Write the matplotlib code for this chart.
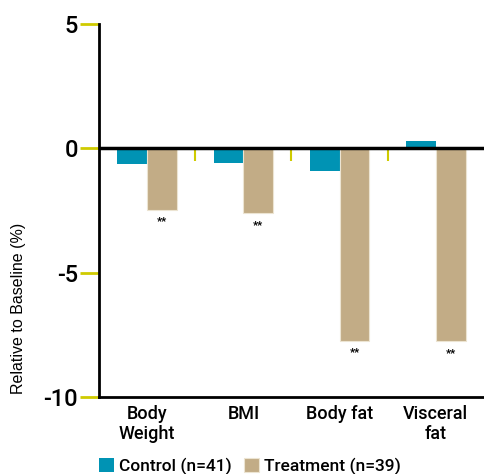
import matplotlib
matplotlib.use('Agg')
import matplotlib.pyplot as plt
import numpy as np

categories = ['Body\nWeight', 'BMI', 'Body fat', 'Visceral\nfat']
control = [-0.63, -0.58, -0.93, 0.28]
treatment = [-2.47, -2.62, -7.74, -7.77]
signif = ['**', '**', '**', '**']
yticks = [5, 0, -5, -10]

teal = '#0093B4'
tan = '#C2AC86'
yellow = '#CFCB00'
fnt = ['Roboto', 'DejaVu Sans']

fig = plt.figure(figsize=(4.84, 4.74), dpi=100)
ax = fig.add_axes([0.2045, 0.163, 0.7955, 0.786])

x = np.arange(len(categories))
w = 0.31
ax.bar(x - w/2, control, w, color=teal, label='Control (n=41)', zorder=2)
ax.bar(x + w/2, treatment, w, color=tan, edgecolor='#ECE4D2', linewidth=0.8,
       label='Treatment (n=39)', zorder=2)

for xi, v, s in zip(x, treatment, signif):
    ax.annotate(s, (xi + w/2, v), xytext=(0, -5), textcoords='offset points',
                ha='center', va='top', fontsize=8, fontweight='bold', family=fnt)

# zero line with yellow group separators
ax.axhline(0, color='black', lw=2.5, zorder=3)
ax.vlines(x[:-1] + 0.5, -0.5, 0, color=yellow, lw=1.5, zorder=1)

ax.set_xlim(-0.5, 3.5)
ax.set_ylim(-10, 5)
ax.set_yticks(yticks)
ax.set_yticklabels([str(t) for t in yticks], family=fnt, fontsize=17, fontweight='medium')
ax.set_xticks(x)
ax.set_xticklabels(categories, family=fnt, fontsize=13, fontweight='medium', linespacing=1.15)
ax.tick_params(axis='x', length=0, pad=6)
ax.tick_params(axis='y', length=14, width=2, color=yellow, pad=1)

for s in ['top', 'right']:
    ax.spines[s].set_visible(False)
ax.spines['left'].set_linewidth(2)
ax.spines['bottom'].set_linewidth(2)

ax.set_ylabel('Relative to Baseline (%)', family=['Liberation Sans', 'DejaVu Sans'],
              fontsize=11.5, va='center')
ax.yaxis.set_label_coords(-0.21, 0.238)

fig.legend(loc='lower left', bbox_to_anchor=(0.173, -0.035), ncol=2, frameon=False,
           handlelength=0.85, handleheight=0.85, handletextpad=0.3, columnspacing=0.7,
           prop={'family': fnt, 'size': 12.5, 'weight': 'medium'})

fig.savefig('out.png', dpi=100)
